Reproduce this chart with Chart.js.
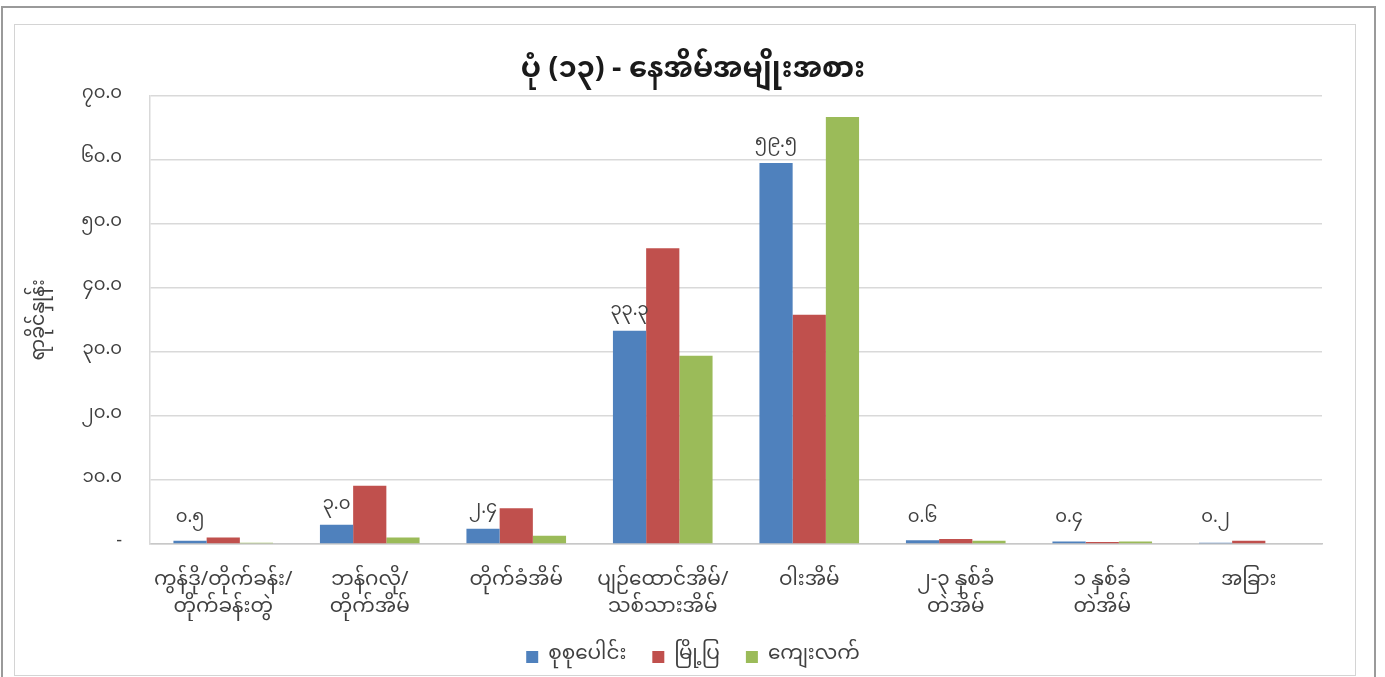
<!DOCTYPE html>
<html>
<head>
<meta charset="utf-8">
<script src="https://cdn.jsdelivr.net/npm/chart.js@4"></script>
<style>
  html, body { margin: 0; padding: 0; background: #fff; }
  #wrap { width: 1385px; height: 677px; position: relative; }
</style>
</head>
<body>
<div id="wrap"><canvas id="chart"></canvas></div>
<script>
const FONT = "'Noto Sans Myanmar', 'Padauk', 'Myanmar Text', 'Noto Sans', 'DejaVu Sans', sans-serif";

const chartTitle = 'ပုံ (၁၃) - နေအိမ်အမျိုးအစား';
const yTitle = 'ရာခိုင်နှုန်း';
const categories = [
  ['ကွန်ဒို/တိုက်ခန်း/', 'တိုက်ခန်းတွဲ'],
  ['ဘန်ဂလို/', 'တိုက်အိမ်'],
  'တိုက်ခံအိမ်',
  ['ပျဉ်ထောင်အိမ်/', 'သစ်သားအိမ်'],
  'ဝါးအိမ်',
  ['၂-၃ နှစ်ခံ', 'တဲအိမ်'],
  ['၁ နှစ်ခံ', 'တဲအိမ်'],
  'အခြား'
];
const seriesNames = ['စုစုပေါင်း', 'မြို့ပြ', 'ကျေးလက်'];
const totalValues = [0.5, 3.0, 2.4, 33.3, 59.5, 0.6, 0.4, 0.2];
const urbanValues = [1.0, 9.1, 5.6, 46.2, 35.8, 0.8, 0.3, 0.5];
const ruralValues = [0.2, 1.0, 1.3, 29.4, 66.7, 0.5, 0.4, 0.1];
const yTicks = [0, 10, 20, 30, 40, 50, 60, 70];

const colors = ['#4F81BD', '#C0504D', '#9BBB59'];

// western digits -> Myanmar digits
function toMyanmar(str) {
  return String(str).replace(/[0-9]/g, d => String.fromCharCode(0x1040 + Number(d)));
}

// outer double frame like the pasted Excel chart
const framePlugin = {
  id: 'frame',
  beforeDraw(chart) {
    const ctx = chart.ctx;
    ctx.save();
    ctx.strokeStyle = '#9a9a9a';
    ctx.lineWidth = 2;
    ctx.strokeRect(2, 7, 1373, 680);
    ctx.strokeStyle = '#d4d4d4';
    ctx.lineWidth = 1;
    ctx.strokeRect(14.5, 24.5, 1341, 651);
    ctx.restore();
  }
};

// title and legend sit a little right of the padded box in the original
const centerPlugin = {
  id: 'recenter',
  afterLayout(chart) {
    const shift = 22;
    [chart.titleBlock, chart.legend].forEach(box => {
      if (box) { box.left += shift; box.right += shift; }
    });
  }
};

// value labels above the total (blue) bars
const labelPlugin = {
  id: 'blueLabels',
  afterDatasetsDraw(chart) {
    const ctx = chart.ctx;
    const meta = chart.getDatasetMeta(0);
    const yScale = chart.scales.y;
    ctx.save();
    ctx.font = '18px ' + FONT;
    ctx.fillStyle = '#404040';
    ctx.textAlign = 'center';
    ctx.textBaseline = 'middle';
    meta.data.forEach((bar, i) => {
      const y = Math.min(bar.y - 18, yScale.getPixelForValue(3.8));
      ctx.fillText(toMyanmar(totalValues[i].toFixed(1)), bar.x, y);
    });
    ctx.restore();
  }
};

new Chart(document.getElementById('chart'), {
  type: 'bar',
  data: {
    labels: categories,
    datasets: [totalValues, urbanValues, ruralValues].map((vals, i) => ({
      label: seriesNames[i],
      data: vals,
      backgroundColor: colors[i],
      borderWidth: 0,
      categoryPercentage: 0.68,
      barPercentage: 1.0
    }))
  },
  options: {
    responsive: true,
    maintainAspectRatio: false,
    animation: false,
    layout: { padding: { top: 57, right: 63, bottom: 0, left: 20 } },
    plugins: {
      title: {
        display: true,
        text: chartTitle,
        color: '#1a1a1a',
        font: { family: FONT, size: 29, weight: 'bold' },
        padding: { top: 0, bottom: 4 }
      },
      legend: {
        position: 'bottom',
        labels: {
          color: '#404040',
          font: { family: FONT, size: 20 },
          boxWidth: 12,
          boxHeight: 12,
          padding: 26
        }
      },
      tooltip: { enabled: false }
    },
    scales: {
      x: {
        grid: { display: false },
        border: { color: '#c8c8c8', width: 1.5 },
        ticks: {
          color: '#404040',
          font: { family: FONT, size: 20, lineHeight: 1.35 },
          maxRotation: 0,
          autoSkip: false,
          padding: 17
        },
        afterFit(scale) { scale.height = 77; }
      },
      y: {
        min: 0,
        max: 70,
        afterBuildTicks(scale) { scale.ticks = yTicks.map(v => ({ value: v })); },
        grid: { color: '#d9d9d9', lineWidth: 1.5, drawTicks: false },
        border: { display: true, color: '#d9d9d9', width: 1.5 },
        ticks: {
          color: '#404040',
          font: { family: FONT, size: 18 },
          padding: 28,
          callback: v => v === 0 ? '-' : toMyanmar(v.toFixed(1))
        },
        title: {
          display: true,
          text: yTitle,
          color: '#404040',
          font: { family: FONT, size: 19 },
          padding: { top: 11, bottom: 0 }
        },
        afterFit(scale) { scale.width = 130; }
      }
    }
  },
  plugins: [framePlugin, centerPlugin, labelPlugin]
});
</script>
</body>
</html>
